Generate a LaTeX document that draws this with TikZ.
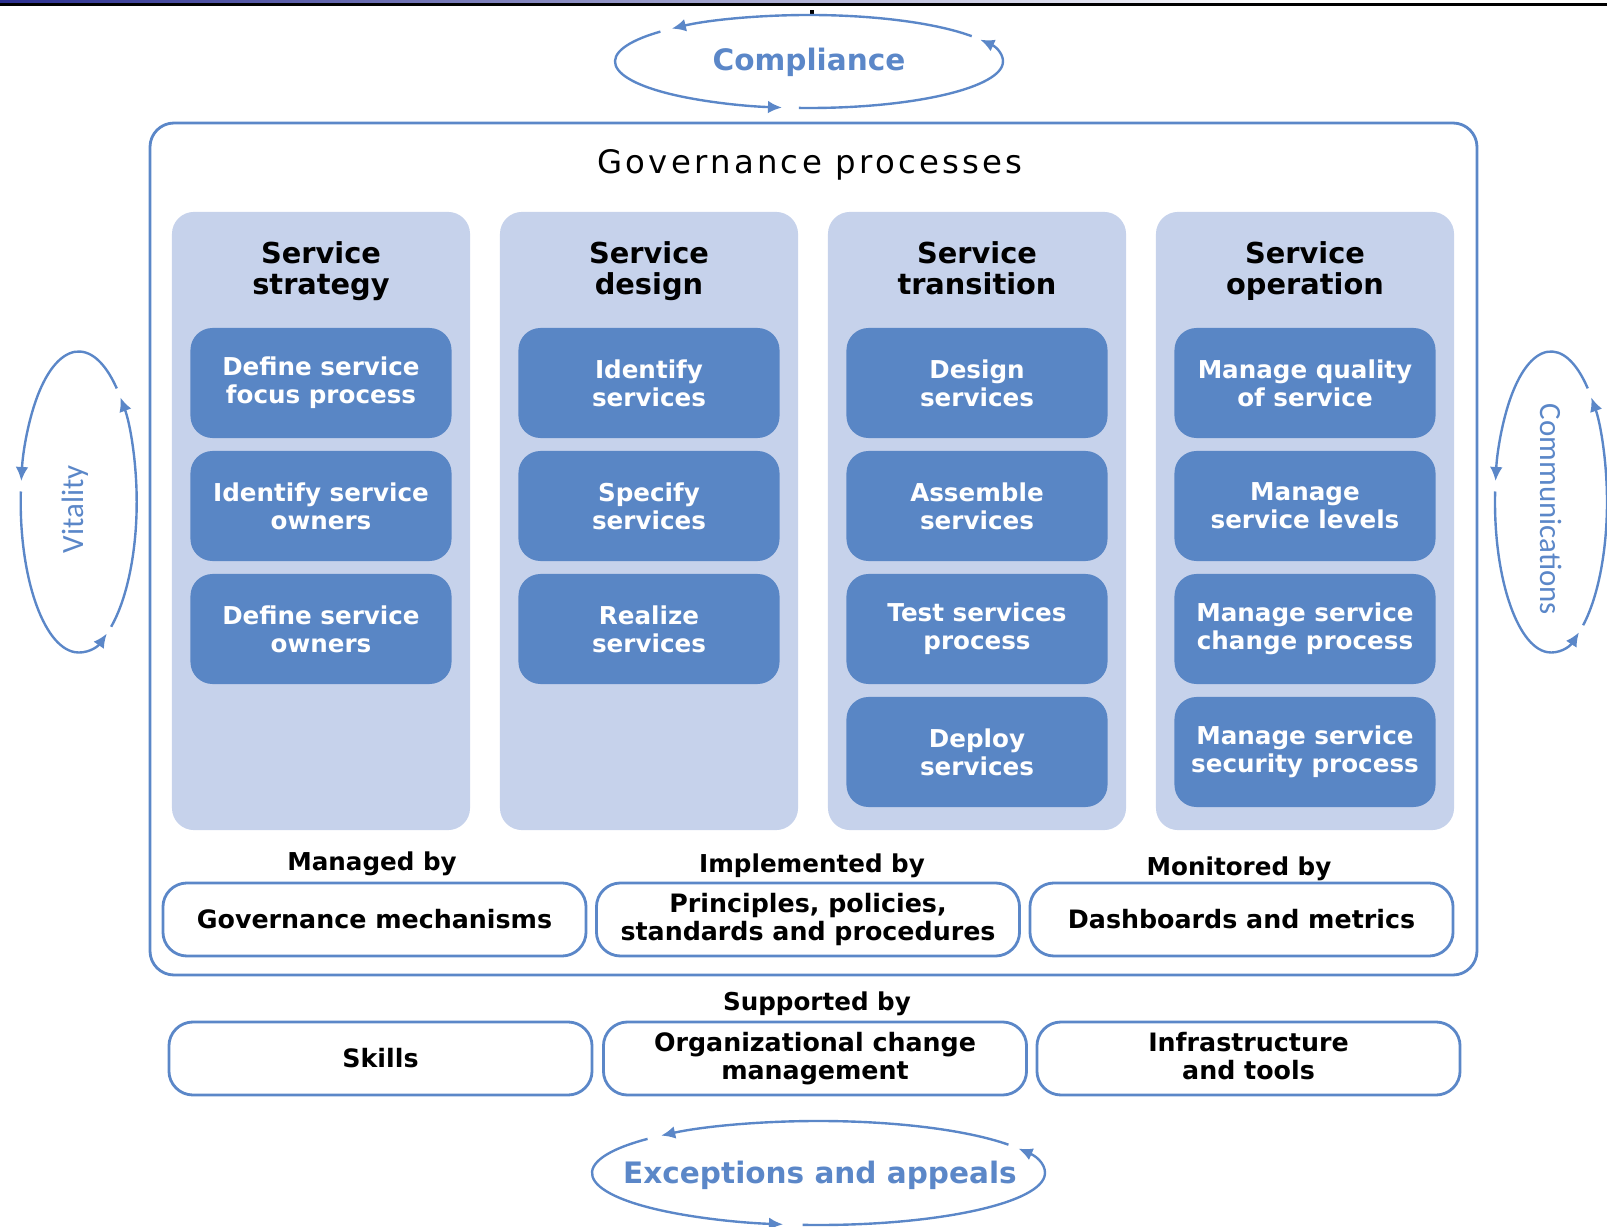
\documentclass[tikz,border=0pt]{standalone}
\usepackage{fontspec}
\setmainfont{DejaVu Sans}
\newfontfamily\carlito{Carlito}
\usetikzlibrary{arrows.meta}

\definecolor{colfill}{RGB}{198,210,235}
\definecolor{boxfill}{RGB}{89,134,197}
\definecolor{lineblue}{RGB}{91,135,200}
\definecolor{topnavy}{RGB}{44,48,145}

\tikzset{
  govframe/.style={draw=lineblue, line width=2pt, rounded corners=0.6cm},
  phase/.style={fill=colfill, rounded corners=0.55cm, minimum width=7.45cm,
    minimum height=15.45cm, inner sep=0pt},
  phasetitle/.style={align=center, font=\fontsize{20.5}{22}\selectfont\bfseries},
  task/.style={fill=boxfill, text=white, rounded corners=0.55cm,
    minimum width=6.525cm, minimum height=2.75cm, inner sep=0pt, align=center,
    font=\fontsize{17.5}{19.7}\selectfont\bfseries},
  basebox/.style={draw=lineblue, line width=2pt, rounded corners=0.6cm,
    minimum width=10.575cm, minimum height=1.825cm, inner sep=0pt, align=center,
    font=\fontsize{18}{19.7}\selectfont\bfseries},
  bylabel/.style={font=\fontsize{17.5}{20}\selectfont\bfseries},
  looparc/.style={draw=lineblue, line width=1.7pt, -{Latex[length=10pt,width=9pt]}},
  looplabel/.style={text=lineblue, font=\fontsize{21}{24}\selectfont\bfseries},
}

\begin{document}
\begin{tikzpicture}[x=0.025cm, y=0.025cm]
  \useasboundingbox (0,0) rectangle (1607,1226);
  \shade[left color=topnavy, right color=white]
    (0,1223)
    rectangle
    (1270,1226);
  \fill[black]
    (0,1220)
    rectangle
    (1607,1223);
  \fill[black]
    (810,1212)
    rectangle
    (814,1216);

  \draw[govframe]
    (150,251)
    rectangle
    (1477,1103);
  \node[font=\fontsize{23}{26}\selectfont\addfontfeature{LetterSpace=10}] (govtitle)
    at (810,1061) {Governance processes};

  \node[phase] (strategy) at (321,705) {};
  \node[phase] (design) at (649,705) {};
  \node[phase] (transition) at (977,705) {};
  \node[phase] (operation) at (1305,705) {};

  \node[phasetitle] (strategytitle) at (321,954.5) {Service\\strategy};
  \node[phasetitle] (designtitle) at (649,954.5) {Service\\design};
  \node[phasetitle] (transitiontitle) at (977,954.5) {Service\\transition\vphantom{g}};
  \node[phasetitle] (operationtitle) at (1305,954.5) {Service\\operation};

  \node[task] (focus) at (321,843) {Define service\\focus process};
  \node[task] (owners) at (321,720) {Identify service\\owners};
  \node[task] (defowners) at (321,597) {Define service\\owners};

  \node[task] (identify) at (649,843) {Identify\\services};
  \node[task] (specify) at (649,720) {Specify\\services};
  \node[task] (realize) at (649,597) {Realize\\services};

  \node[task] (designsvc) at (977,843) {Design\\services};
  \node[task] (assemble) at (977,720) {Assemble\\services};
  \node[task] (test) at (977,597) {Test services\\process};
  \node[task] (deploy) at (977,474) {Deploy\\services};

  \node[task] (quality) at (1305,843) {Manage quality\\of service};
  \node[task] (levels) at (1305,720) {Manage\\service levels};
  \node[task] (change) at (1305,597) {Manage service\\change process};
  \node[task] (security) at (1305,474) {Manage service\\security process};

  \node[bylabel] (managedby) at (372,362) {Managed by};
  \node[bylabel] (implementedby) at (812,360) {Implemented by};
  \node[bylabel] (monitoredby) at (1239,357) {Monitored by};

  \node[basebox] (mechanisms) at (374.5,306.5) {Governance mechanisms};
  \node[basebox] (principles) at (808,306.5) {Principles, policies,\\standards and procedures};
  \node[basebox] (dashboards) at (1241.5,306.5) {Dashboards and metrics};

  \node[bylabel] (supportedby) at (817,222) {Supported by};

  \node[basebox] (skills) at (380.5,167.5) {Skills};
  \node[basebox] (orgchange) at (815,167.5) {Organizational change\\management};
  \node[basebox] (infra) at (1248.5,167.5) {Infrastructure\\and tools\vphantom{g}};

  \coordinate (compliancec) at (809,1164.5);
  \node[looplabel] (compliance) at (809,1163.5) {Compliance};
  \draw[looparc]
    (compliancec) ++(33:194 and 46.5)
    arc[start angle=33, end angle=135, x radius=194, y radius=46.5];
  \draw[looparc]
    (compliancec) ++(140:194 and 46.5)
    arc[start angle=140, end angle=262, x radius=194, y radius=46.5];
  \draw[looparc]
    (compliancec) ++(267:194 and 46.5)
    arc[start angle=267, end angle=388, x radius=194, y radius=46.5];

  \coordinate (exceptionsc) at (818.5,53);
  \node[looplabel] (exceptions) at (820,50.5) {Exceptions and appeals};
  \draw[looparc]
    (exceptionsc) ++(33:226.5 and 52)
    arc[start angle=33, end angle=134, x radius=226.5, y radius=52];
  \draw[looparc]
    (exceptionsc) ++(139:226.5 and 52)
    arc[start angle=139, end angle=261, x radius=226.5, y radius=52];
  \draw[looparc]
    (exceptionsc) ++(266:226.5 and 52)
    arc[start angle=266, end angle=388, x radius=226.5, y radius=52];

  \coordinate (vitalityc) at (78.7,724);
  \node[text=lineblue, font=\fontsize{22}{24}\selectfont\carlito, rotate=90] (vitality)
    at (75,717) {Vitality};
  \draw[looparc]
    (vitalityc) ++(49:58 and 150.5)
    arc[start angle=49, end angle=172, x radius=58, y radius=150.5];
  \draw[looparc]
    (vitalityc) ++(176:58 and 150.5)
    arc[start angle=176, end angle=299, x radius=58, y radius=150.5];
  \draw[looparc]
    (vitalityc) ++(304:58 and 150.5)
    arc[start angle=304, end angle=404, x radius=58, y radius=150.5];

  \coordinate (communicationsc) at (1551,724);
  \node[text=lineblue, font=\fontsize{22}{24}\selectfont\carlito, rotate=-90] (communications)
    at (1551,716.5) {Communications};
  \draw[looparc]
    (communicationsc) ++(49:56 and 150.5)
    arc[start angle=49, end angle=172, x radius=56, y radius=150.5];
  \draw[looparc]
    (communicationsc) ++(176:56 and 150.5)
    arc[start angle=176, end angle=300, x radius=56, y radius=150.5];
  \draw[looparc]
    (communicationsc) ++(305:56 and 150.5)
    arc[start angle=305, end angle=404, x radius=56, y radius=150.5];
\end{tikzpicture}
\end{document}
